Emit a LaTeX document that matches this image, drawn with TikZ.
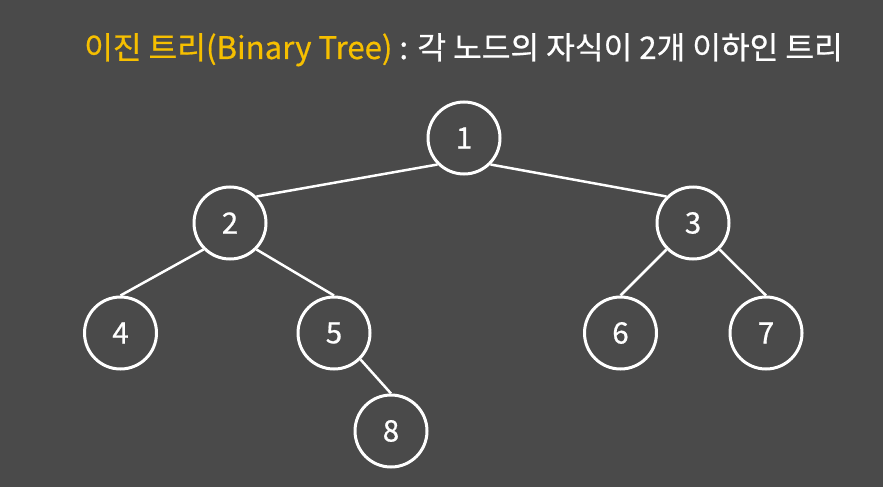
\documentclass[tikz,border=0pt]{standalone}
\usepackage{fontspec}
\setmainfont{Noto Sans CJK KR}
\newfontfamily\medfont{Noto Sans CJK KR}[FakeBold=0.6]
\definecolor{bg}{HTML}{4A4A4A}
\definecolor{ttl}{HTML}{F6BF00}
\begin{document}
\begin{tikzpicture}[x=1pt,y=-1pt,
  tnode/.style={circle,draw=white,line width=3pt,minimum size=72pt,inner sep=0pt,text=white,font=\medfont\fontsize{29.5}{32}\selectfont},
  edge/.style={draw=white,line width=2.5pt}]
\fill[bg] (0,0) rectangle (883,487);
\useasboundingbox (0,0) rectangle (883,487);
\node[anchor=base west,inner sep=0pt,font=\medfont\fontsize{31.2}{34}\selectfont] (title) at (84,59)
  {\textcolor{ttl}{이진 트리(Binary Tree)} \textcolor{white}{: 각 노드의 자식이 2개 이하인 트리}};
\node[tnode] (n1) at (464,138) {1};
\node[tnode] (n2) at (230,223) {2};
\node[tnode] (n3) at (693,223) {3};
\node[tnode] (n4) at (120.5,333) {4};
\node[tnode] (n5) at (334,333) {5};
\node[tnode] (n6) at (620.5,333) {6};
\node[tnode] (n7) at (766,333) {7};
\node[tnode] (n8) at (391,431) {8};
\draw[edge] (n1.south west) -- (n2.north east);
\draw[edge] (n1.south east) -- (n3.north west);
\draw[edge] (n2.south west) -- (n4.north);
\draw[edge] (n2.south east) -- (n5.north);
\draw[edge] (n3.south west) -- (n6.north);
\draw[edge] (n3.south east) -- (n7.north);
\draw[edge] (n5.south east) -- (n8.north);
\end{tikzpicture}
\end{document}
